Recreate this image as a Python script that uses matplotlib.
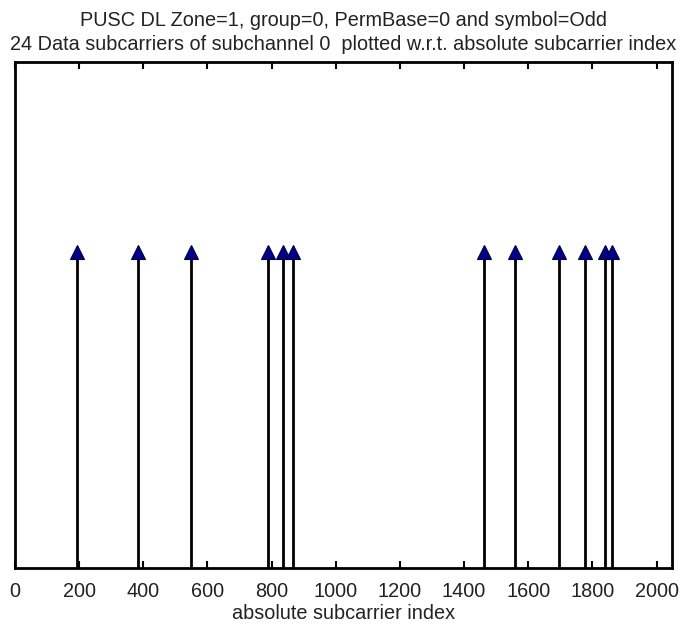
import matplotlib
matplotlib.use("Agg")
import matplotlib.pyplot as plt

subcarrier_index = [194, 384, 550, 790, 834, 866, 1462, 1559, 1695, 1776, 1839, 1860]
stem_value = [1, 1, 1, 1, 1, 1, 1, 1, 1, 1, 1, 1]
x_ticks = [0, 200, 400, 600, 800, 1000, 1200, 1400, 1600, 1800, 2000]
title_text = ("PUSC DL Zone=1, group=0, PermBase=0 and symbol=Odd\n"
              "24 Data subcarriers of subchannel 0  plotted w.r.t. absolute subcarrier index")
x_label = "absolute subcarrier index"

plt.rcParams['font.family'] = ['Liberation Sans', 'DejaVu Sans']

fig = plt.figure(figsize=(6.85, 6.25), dpi=100)
ax = fig.add_axes([15/685, 1 - 568/625, (672 - 15)/685, (568 - 62)/625])

ml, sl, bl = ax.stem(subcarrier_index, stem_value, basefmt=" ")
plt.setp(sl, color="black", linewidth=2)
plt.setp(ml, marker="^", markersize=10, markerfacecolor="#00008B", markeredgecolor="#000040",
         markeredgewidth=0.8)

ax.set_xlim(0, 2048)
ax.set_ylim(0, 1.6)
ax.set_xticks(x_ticks)
ax.set_xticklabels([str(t) for t in x_ticks], fontsize=14.3, color="#222222")
ax.set_yticks([])
ax.tick_params(axis="x", direction="in", top=True, length=5, width=1.5, pad=10)
for s in ax.spines.values():
    s.set_linewidth(2)

ax.set_title(title_text, fontsize=14.3, color="#222222", linespacing=1.32, pad=9)
ax.set_xlabel(x_label, fontsize=14.3, color="#222222", labelpad=2.5)

fig.savefig("out.png", dpi=100)
